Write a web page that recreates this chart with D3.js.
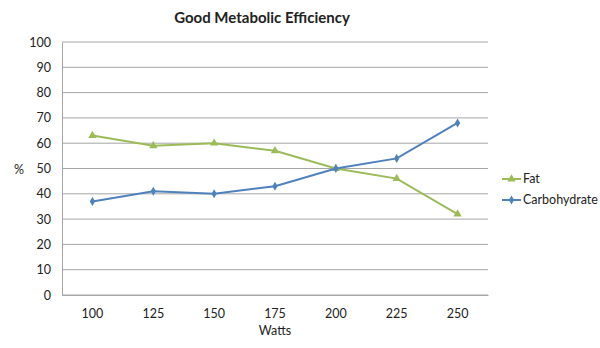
<!DOCTYPE html>
<html>
<head>
<meta charset="utf-8">
<script src="https://cdn.jsdelivr.net/npm/d3@7"></script>
<style>
  body { margin: 0; background: #fff; }
  text { font-family: Lato, "Open Sans", sans-serif; fill: #222; }
</style>
</head>
<body>
<script>
var watts = ["100", "125", "150", "175", "200", "225", "250"]
var fat = [63, 59, 60, 57, 50, 46, 32]
var carbohydrate = [37, 41, 40, 43, 50, 54, 68]
var yTicks = [0, 10, 20, 30, 40, 50, 60, 70, 80, 90, 100]

var series = [
  {name: "Fat", values: fat, color: "#9bbb59", marker: "triangle"},
  {name: "Carbohydrate", values: carbohydrate, color: "#4f81bd", marker: "diamond"}
]

var width = 600, height = 348
var plotLeft = 62, plotRight = 488, plotTop = 42, plotBottom = 295

var svg = d3.select("body").append("svg")
  .attr("width", width)
  .attr("height", height)

var x = d3.scaleBand().domain(watts).range([plotLeft, plotRight])
var y = d3.scaleLinear().domain([0, 100]).range([plotBottom, plotTop])

// gridlines
svg.append("g")
  .selectAll("line")
  .data(yTicks)
  .join("line")
  .attr("x1", plotLeft).attr("x2", plotRight)
  .attr("y1", d => y(d)).attr("y2", d => y(d))
  .attr("stroke", "#a6a6a6")
  .attr("stroke-width", 1)

// y axis
var yAxis = svg.append("g")
  .attr("transform", "translate(" + plotLeft + ",0)")
  .call(d3.axisLeft(y).tickValues(yTicks).tickSize(0).tickPadding(11))
yAxis.select(".domain").attr("stroke", "#a6a6a6")
yAxis.selectAll("text").style("font-size", "12.5px").style("font-family", "Lato, sans-serif").attr("fill", "#222")

// x axis
var xAxis = svg.append("g")
  .attr("transform", "translate(0," + plotBottom + ")")
  .call(d3.axisBottom(x).tickSize(0).tickPadding(14))
xAxis.select(".domain").attr("stroke", "#a6a6a6")
xAxis.selectAll("text").style("font-size", "12.5px").style("font-family", "Lato, sans-serif").attr("fill", "#222")

var line = d3.line()
  .x((d, i) => x(watts[i]) + x.bandwidth() / 2)
  .y(d => y(d))

var tri = d3.symbol().type(d3.symbolTriangle).size(30)
var dia = d3.symbol().type(d3.symbolDiamond).size(24)

series.forEach(function(s) {
  svg.append("path")
    .attr("d", line(s.values))
    .attr("fill", "none")
    .attr("stroke", s.color)
    .attr("stroke-width", 2)

  svg.append("g")
    .selectAll("path")
    .data(s.values)
    .join("path")
    .attr("transform", (d, i) => "translate(" + (x(watts[i]) + x.bandwidth() / 2) + "," + y(d) + ")")
    .attr("d", s.marker == "triangle" ? tri : dia)
    .attr("fill", s.color)
})

// legend
var legend = svg.append("g")
series.forEach(function(s, i) {
  var ly = 179 + i * 21
  legend.append("line")
    .attr("x1", 502).attr("x2", 521)
    .attr("y1", ly).attr("y2", ly)
    .attr("stroke", s.color).attr("stroke-width", 2)
  legend.append("path")
    .attr("transform", "translate(511.5," + ly + ")")
    .attr("d", s.marker == "triangle" ? tri : dia)
    .attr("fill", s.color)
  legend.append("text")
    .attr("x", 523).attr("y", ly)
    .attr("dy", "0.35em")
    .style("font-size", "12.5px")
    .text(s.name)
})

// title and axis labels
svg.append("text")
  .attr("x", 262).attr("y", 18)
  .attr("text-anchor", "middle")
  .attr("dy", "0.35em")
  .style("font-size", "15px")
  .style("font-weight", "bold")
  .text("Good Metabolic Efficiency")

svg.append("text")
  .attr("x", 19).attr("y", 170)
  .attr("text-anchor", "middle")
  .attr("dy", "0.35em")
  .style("font-size", "12.5px")
  .text("%")

svg.append("text")
  .attr("x", 275).attr("y", 331)
  .attr("text-anchor", "middle")
  .attr("dy", "0.35em")
  .style("font-size", "12.5px")
  .text("Watts")
</script>
</body>
</html>
